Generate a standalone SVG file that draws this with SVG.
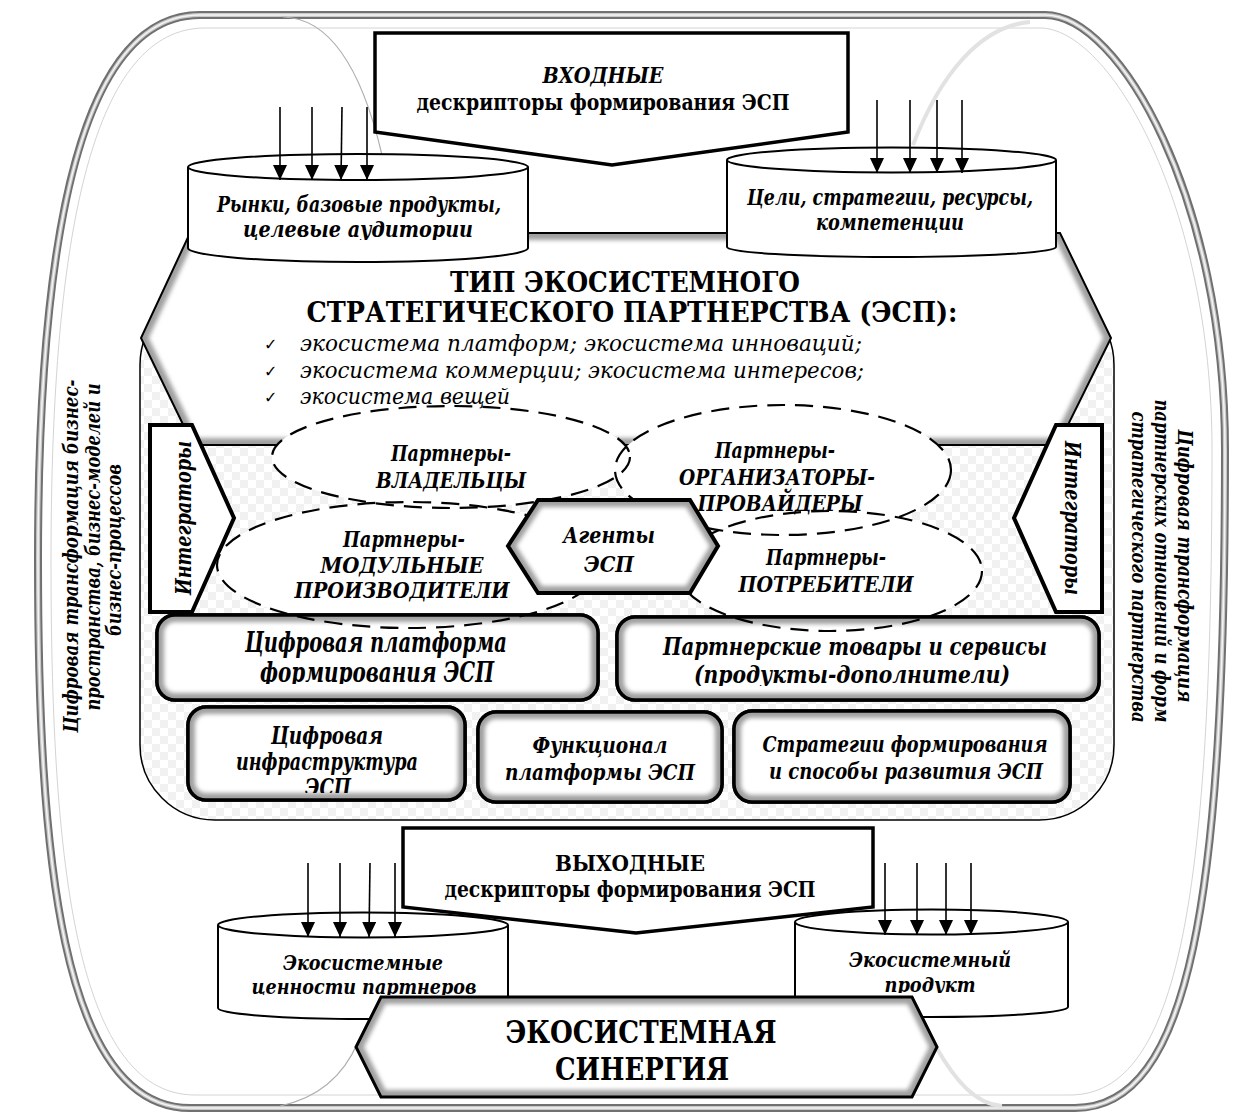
<svg xmlns="http://www.w3.org/2000/svg" width="1239" height="1120" viewBox="0 0 1239 1120" font-family="'DejaVu Serif Condensed', 'DejaVu Serif', serif">
<defs>
<style>
text { font-family: "DejaVu Serif Condensed", "DejaVu Serif", serif; font-stretch: condensed; fill:#000; }
.bi { font-weight:bold; font-style:italic; }
.b { font-weight:bold; }
.i { font-style:italic; }
.mid { text-anchor:middle; }
text.chk { font-family:"DejaVu Sans", sans-serif; font-size:16px; font-stretch:normal; }
.arr { stroke:#000; stroke-width:1.6; marker-end:url(#ah); fill:none; }
.efill { fill:#fff; stroke:none; }
.dash { fill:none; stroke:#000; stroke-width:2.2; stroke-dasharray:18 10; }
.box { fill:#fff; stroke:#000; stroke-width:3.5; }
.bev { fill:none; stroke:#a0a0a0; stroke-width:14; filter:url(#blur); }
.cyl { fill:#fff; stroke:#000; stroke-width:2; }
.pent { fill:#fff; stroke:#000; stroke-width:3.5; stroke-linejoin:miter; }
.faint { fill:none; stroke:#b0b0b0; stroke-width:1.2; }
.faintw { fill:none; stroke:#e2e2e2; stroke-width:4; }
</style>
<filter id="blur" x="-10%" y="-10%" width="120%" height="120%"><feGaussianBlur stdDeviation="2.2"/></filter>
<marker id="ah" markerUnits="userSpaceOnUse" markerWidth="15" markerHeight="14" refX="15" refY="7" orient="auto"><path d="M0,0 L15,7 L0,14 Z" fill="#000"/></marker>
<pattern id="chkp" width="16" height="16" patternUnits="userSpaceOnUse"><rect width="16" height="16" fill="#fff"/><rect width="8" height="8" fill="#f1f1f1"/><rect x="8" y="8" width="8" height="8" fill="#f1f1f1"/></pattern>
<clipPath id="cpHex"><polygon points="190,233 1060,233 1111,338 1058,445 193,445 141,338"/></clipPath>
<clipPath id="cpAg"><polygon points="538,500 690,500 718,546 690,593 538,593 508,546"/></clipPath>
<clipPath id="cpSyn"><polygon points="381,997 912,997 937,1047 912,1097 381,1097 356,1047"/></clipPath>
<clipPath id="cpA"><rect x="157" y="615" width="441" height="85" rx="18"/></clipPath>
<clipPath id="cpB"><rect x="617" y="617" width="482" height="83" rx="18"/></clipPath>
<clipPath id="cpC"><rect x="188" y="707" width="277" height="93" rx="18"/></clipPath>
<clipPath id="cpD"><rect x="478" y="712" width="244" height="90" rx="18"/></clipPath>
<clipPath id="cpE"><rect x="734" y="711" width="336" height="91" rx="18"/></clipPath>
<clipPath id="tA"><rect x="157" y="615" width="441" height="69"/></clipPath>
<clipPath id="tB"><rect x="617" y="617" width="482" height="69"/></clipPath>
<clipPath id="tC"><rect x="188" y="707" width="277" height="86"/></clipPath>
<clipPath id="tC1"><rect x="188" y="150" width="340" height="90"/></clipPath>
<clipPath id="tC2"><rect x="727" y="150" width="330" height="83"/></clipPath>
<clipPath id="tC3"><rect x="218" y="930" width="290" height="65"/></clipPath>
<clipPath id="tC4"><rect x="795" y="930" width="273" height="63"/></clipPath>
</defs>

<g id="outer">
<path d="M 200,15 L 1045,15 C 1120,15 1225,200 1225,450 C 1225,900 1190,1108 1075,1108 L 190,1108 C 60,1108 38,850 38,560 C 38,220 85,15 200,15 Z" fill="#fff" stroke="#707070" stroke-width="8"/>
<path d="M 200,15 L 1045,15 C 1120,15 1225,200 1225,450 C 1225,900 1190,1108 1075,1108 L 190,1108 C 60,1108 38,850 38,560 C 38,220 85,15 200,15 Z" fill="none" stroke="#c8c8c8" stroke-width="4"/>
<path d="M 200,15 L 1045,15 C 1120,15 1225,200 1225,450 C 1225,900 1190,1108 1075,1108 L 190,1108 C 60,1108 38,850 38,560 C 38,220 85,15 200,15 Z" fill="none" stroke="#f4f4f4" stroke-width="1.5"/>
<path d="M 205,28 L 1040,28 C 1110,28 1212,205 1212,450 C 1212,890 1180,1095 1070,1095 L 195,1095 C 72,1095 51,845 51,560 C 51,225 95,28 205,28 Z" fill="none" stroke="#d4d4d4" stroke-width="1"/>
<path class="faint" d="M 283,17 C 330,18 362,70 382,155"/>
<path class="faintw" d="M 1030,22 C 980,26 940,75 913,145"/>
<path class="faint" d="M 280,1106 C 318,1098 344,1075 358,1042"/>
<path class="faintw" d="M 936,1047 C 955,1080 975,1104 1002,1106"/>
</g>

<g id="input-descriptors">
<polygon class="pent" points="375,33 848,33 848,132 612,165 375,132"/>
<text class="bi mid" x="603" y="83" font-size="22" textLength="121" lengthAdjust="spacingAndGlyphs">ВХОДНЫЕ</text>
<text class="b mid" x="603" y="110" font-size="22" textLength="373" lengthAdjust="spacingAndGlyphs">дескрипторы формирования ЭСП</text>
</g>

<g id="container">
<rect x="140" y="290" width="974" height="530" rx="75" fill="url(#chkp)" stroke="#000" stroke-width="1.5"/>
</g>

<g id="esp-type">
<polygon points="190,233 1060,233 1111,338 1058,445 193,445 141,338" fill="#fff"/>
<polygon class="bev" points="190,233 1060,233 1111,338 1058,445 193,445 141,338" clip-path="url(#cpHex)"/>
<polygon points="190,233 1060,233 1111,338 1058,445 193,445 141,338" fill="none" stroke="#000" stroke-width="2"/>
</g>

<g id="markets">
<path class="cyl" d="M188,167 V248 A170,14 0 0 0 528,248 V167"/>
<ellipse class="cyl" cx="358" cy="167" rx="170" ry="13"/>
<g clip-path="url(#tC1)">
<text class="bi mid" x="359" y="212" font-size="22.5" textLength="284" lengthAdjust="spacingAndGlyphs">Рынки, базовые продукты,</text>
<text class="bi mid" x="358" y="237" font-size="22.5" textLength="230" lengthAdjust="spacingAndGlyphs">целевые аудитории</text>
</g>
</g>

<g id="goals">
<path class="cyl" d="M727,160 V247 A164.5,10 0 0 0 1056,247 V160"/>
<ellipse class="cyl" cx="891.5" cy="160" rx="164.5" ry="12.5"/>
<g clip-path="url(#tC2)">
<text class="bi mid" x="890" y="205" font-size="22.5" textLength="286" lengthAdjust="spacingAndGlyphs">Цели, стратегии, ресурсы,</text>
<text class="bi mid" x="890" y="230" font-size="22.5" textLength="148" lengthAdjust="spacingAndGlyphs">компетенции</text>
</g>
</g>

<g id="integrators-left">
<polygon points="150,425 192,425 234,518 192,612 150,612" fill="#fff" stroke="#000" stroke-width="4"/>
<text class="bi mid" font-size="22" textLength="154" lengthAdjust="spacingAndGlyphs" transform="translate(191,518) rotate(-90)">Интеграторы</text>
</g>
<g id="integrators-right">
<polygon points="1102,425 1056,425 1014,518 1056,612 1102,612" fill="#fff" stroke="#000" stroke-width="4"/>
<text class="bi mid" font-size="22" textLength="154" lengthAdjust="spacingAndGlyphs" transform="translate(1065,518) rotate(90)">Интеграторы</text>
</g>

<g id="ellipse-fills">
<ellipse class="efill" cx="451" cy="457" rx="179" ry="51"/>
<ellipse class="efill" cx="783" cy="470" rx="168" ry="65"/>
<ellipse class="efill" cx="409" cy="565" rx="192" ry="63"/>
<ellipse class="efill" cx="830" cy="571" rx="152" ry="60"/>
</g>

<g id="esp-type-text">
<text class="b mid" x="625" y="292" font-size="27.5" textLength="350" lengthAdjust="spacingAndGlyphs">ТИП ЭКОСИСТЕМНОГО</text>
<text class="b mid" x="632" y="322" font-size="27.5" textLength="651" lengthAdjust="spacingAndGlyphs">СТРАТЕГИЧЕСКОГО ПАРТНЕРСТВА (ЭСП):</text>
<text class="chk" x="264" y="350">✓</text>
<text class="i" x="300" y="351" font-size="22.5" textLength="562" lengthAdjust="spacingAndGlyphs">экосистема платформ; экосистема инноваций;</text>
<text class="chk" x="264" y="377">✓</text>
<text class="i" x="300" y="378" font-size="22.5" textLength="564" lengthAdjust="spacingAndGlyphs">экосистема коммерции; экосистема интересов;</text>
<text class="chk" x="264" y="403">✓</text>
<text class="i" x="300" y="404" font-size="22.5" textLength="210" lengthAdjust="spacingAndGlyphs">экосистема вещей</text>
</g>

<g id="digital-platform">
<rect class="box" x="157" y="615" width="441" height="85" rx="18"/>
<rect class="bev" x="157" y="615" width="441" height="85" rx="18" clip-path="url(#cpA)" stroke-width="10"/>
<rect x="157" y="615" width="441" height="85" rx="18" fill="none" stroke="#000" stroke-width="3.5"/>
<g clip-path="url(#tA)">
<text class="bi mid" x="376" y="652" font-size="27" textLength="262" lengthAdjust="spacingAndGlyphs">Цифровая платформа</text>
<text class="bi mid" x="377" y="682" font-size="27" textLength="234" lengthAdjust="spacingAndGlyphs">формирования ЭСП</text>
</g>
</g>

<g id="partner-goods">
<rect class="box" x="617" y="617" width="482" height="83" rx="18"/>
<rect class="bev" x="617" y="617" width="482" height="83" rx="18" clip-path="url(#cpB)" stroke-width="10"/>
<rect x="617" y="617" width="482" height="83" rx="18" fill="none" stroke="#000" stroke-width="3.5"/>
<g clip-path="url(#tB)">
<text class="bi mid" x="855" y="655" font-size="24" textLength="384" lengthAdjust="spacingAndGlyphs">Партнерские товары и сервисы</text>
<text class="bi mid" x="852" y="683" font-size="24" textLength="316" lengthAdjust="spacingAndGlyphs">(продукты-дополнители)</text>
</g>
</g>

<g id="digital-infra">
<rect class="box" x="188" y="707" width="277" height="93" rx="18"/>
<rect class="bev" x="188" y="707" width="277" height="93" rx="18" clip-path="url(#cpC)" stroke-width="10"/>
<rect x="188" y="707" width="277" height="93" rx="18" fill="none" stroke="#000" stroke-width="3.5"/>
<g clip-path="url(#tC)">
<text class="bi mid" x="327" y="744" font-size="23.5" textLength="112" lengthAdjust="spacingAndGlyphs">Цифровая</text>
<text class="bi mid" x="327" y="770" font-size="23.5" textLength="182" lengthAdjust="spacingAndGlyphs">инфраструктура</text>
<text class="bi mid" x="328" y="796" font-size="23.5" textLength="46" lengthAdjust="spacingAndGlyphs">ЭСП</text>
</g>
</g>

<g id="functionality">
<rect class="box" x="478" y="712" width="244" height="90" rx="18"/>
<rect class="bev" x="478" y="712" width="244" height="90" rx="18" clip-path="url(#cpD)" stroke-width="10"/>
<rect x="478" y="712" width="244" height="90" rx="18" fill="none" stroke="#000" stroke-width="3.5"/>
<text class="bi mid" x="600" y="753" font-size="22.5" textLength="135" lengthAdjust="spacingAndGlyphs">Функционал</text>
<text class="bi mid" x="600" y="780" font-size="22.5" textLength="190" lengthAdjust="spacingAndGlyphs">платформы ЭСП</text>
</g>

<g id="strategies">
<rect class="box" x="734" y="711" width="336" height="91" rx="18"/>
<rect class="bev" x="734" y="711" width="336" height="91" rx="18" clip-path="url(#cpE)" stroke-width="10"/>
<rect x="734" y="711" width="336" height="91" rx="18" fill="none" stroke="#000" stroke-width="3.5"/>
<text class="bi mid" x="905" y="752" font-size="22.5" textLength="285" lengthAdjust="spacingAndGlyphs">Стратегии формирования</text>
<text class="bi mid" x="906" y="779" font-size="22.5" textLength="274" lengthAdjust="spacingAndGlyphs">и способы развития ЭСП</text>
</g>

<g id="partners-owners">
<ellipse class="dash" cx="451" cy="457" rx="179" ry="51"/>
<text class="bi mid" x="451" y="461" font-size="22.5" textLength="120" lengthAdjust="spacingAndGlyphs">Партнеры-</text>
<text class="bi mid" x="451" y="488" font-size="22.5" textLength="150" lengthAdjust="spacingAndGlyphs">ВЛАДЕЛЬЦЫ</text>
</g>
<g id="partners-organizers">
<ellipse class="dash" cx="783" cy="470" rx="168" ry="65"/>
<text class="bi mid" x="775" y="458" font-size="22.5" textLength="120" lengthAdjust="spacingAndGlyphs">Партнеры-</text>
<text class="bi mid" x="777" y="485" font-size="22.5" textLength="196" lengthAdjust="spacingAndGlyphs">ОРГАНИЗАТОРЫ-</text>
<text class="bi mid" x="780" y="511" font-size="22.5" textLength="165" lengthAdjust="spacingAndGlyphs">ПРОВАЙДЕРЫ</text>
</g>
<g id="partners-modular">
<ellipse class="dash" cx="409" cy="565" rx="192" ry="63"/>
<text class="bi mid" x="404" y="547" font-size="22.5" textLength="122" lengthAdjust="spacingAndGlyphs">Партнеры-</text>
<text class="bi mid" x="402" y="573" font-size="22.5" textLength="163" lengthAdjust="spacingAndGlyphs">МОДУЛЬНЫЕ</text>
<text class="bi mid" x="402" y="598" font-size="22.5" textLength="215" lengthAdjust="spacingAndGlyphs">ПРОИЗВОДИТЕЛИ</text>
</g>
<g id="partners-consumers">
<ellipse class="dash" cx="830" cy="571" rx="152" ry="60"/>
<text class="bi mid" x="826" y="565" font-size="22.5" textLength="120" lengthAdjust="spacingAndGlyphs">Партнеры-</text>
<text class="bi mid" x="826" y="592" font-size="22.5" textLength="175" lengthAdjust="spacingAndGlyphs">ПОТРЕБИТЕЛИ</text>
</g>

<g id="agents">
<polygon points="538,500 690,500 718,546 690,593 538,593 508,546" fill="#fff"/>
<polygon class="bev" points="538,500 690,500 718,546 690,593 538,593 508,546" clip-path="url(#cpAg)"/>
<polygon points="538,500 690,500 718,546 690,593 538,593 508,546" fill="none" stroke="#000" stroke-width="4"/>
<text class="bi mid" x="609" y="543" font-size="23" textLength="92" lengthAdjust="spacingAndGlyphs">Агенты</text>
<text class="bi mid" x="609" y="572" font-size="23" textLength="50" lengthAdjust="spacingAndGlyphs">ЭСП</text>
</g>

<g id="output-descriptors">
<polygon class="pent" points="403,828 873,828 873,907 636,933 403,907"/>
<text class="b mid" x="630" y="871" font-size="22.5" textLength="150" lengthAdjust="spacingAndGlyphs">ВЫХОДНЫЕ</text>
<text class="b mid" x="630" y="897" font-size="22.5" textLength="371" lengthAdjust="spacingAndGlyphs">дескрипторы формирования ЭСП</text>
</g>

<g id="values">
<path class="cyl" d="M218,925 V1008 A145,11 0 0 0 508,1008 V925"/>
<ellipse class="cyl" cx="363" cy="925" rx="145" ry="12.5"/>
<g clip-path="url(#tC3)">
<text class="bi mid" x="363" y="970" font-size="20.5" textLength="160" lengthAdjust="spacingAndGlyphs">Экосистемные</text>
<text class="bi mid" x="364" y="994" font-size="20.5" textLength="225" lengthAdjust="spacingAndGlyphs">ценности партнеров</text>
</g>
</g>

<g id="product">
<path class="cyl" d="M795,922 V1007 A136.5,10 0 0 0 1068,1007 V922"/>
<ellipse class="cyl" cx="931.5" cy="922" rx="136.5" ry="12.5"/>
<g clip-path="url(#tC4)">
<text class="bi mid" x="930" y="967" font-size="20.5" textLength="162" lengthAdjust="spacingAndGlyphs">Экосистемный</text>
<text class="bi mid" x="930" y="992" font-size="20.5" textLength="91" lengthAdjust="spacingAndGlyphs">продукт</text>
</g>
</g>

<g id="synergy">
<polygon points="381,997 912,997 937,1047 912,1097 381,1097 356,1047" fill="#fff"/>
<polygon class="bev" points="381,997 912,997 937,1047 912,1097 381,1097 356,1047" clip-path="url(#cpSyn)" stroke-width="18"/>
<polygon points="381,997 912,997 937,1047 912,1097 381,1097 356,1047" fill="none" stroke="#000" stroke-width="3"/>
<text class="b mid" x="641" y="1043" font-size="31" textLength="271" lengthAdjust="spacingAndGlyphs">ЭКОСИСТЕМНАЯ</text>
<text class="b mid" x="642" y="1080" font-size="31" textLength="174" lengthAdjust="spacingAndGlyphs">СИНЕРГИЯ</text>
</g>

<g id="side-left">
<text class="bi mid" font-size="20.5" textLength="353" lengthAdjust="spacingAndGlyphs" transform="translate(78,556) rotate(-90)">Цифровая трансформация бизнес-</text>
<text class="bi mid" font-size="20.5" textLength="327" lengthAdjust="spacingAndGlyphs" transform="translate(100,547) rotate(-90)">пространства, бизнес-моделей и</text>
<text class="bi mid" font-size="20.5" textLength="172" lengthAdjust="spacingAndGlyphs" transform="translate(121,550) rotate(-90)">бизнес-процессов</text>
</g>
<g id="side-right">
<text class="bi mid" font-size="20.5" textLength="273" lengthAdjust="spacingAndGlyphs" transform="translate(1178,566) rotate(90)">Цифровая трансформация</text>
<text class="bi mid" font-size="20.5" textLength="323" lengthAdjust="spacingAndGlyphs" transform="translate(1155,561) rotate(90)">партнерских отношений и форм</text>
<text class="bi mid" font-size="20.5" textLength="311" lengthAdjust="spacingAndGlyphs" transform="translate(1132,567) rotate(90)">стратегического партнерства</text>
</g>

<g id="connectors">
<line class="arr" x1="280" y1="107" x2="280" y2="180"/>
<line class="arr" x1="312" y1="107" x2="312" y2="180"/>
<line class="arr" x1="342" y1="107" x2="341" y2="180"/>
<line class="arr" x1="367" y1="107" x2="367" y2="180"/>
<line class="arr" x1="877" y1="100" x2="877" y2="173"/>
<line class="arr" x1="910" y1="100" x2="910" y2="173"/>
<line class="arr" x1="937" y1="100" x2="937" y2="173"/>
<line class="arr" x1="962" y1="100" x2="962" y2="173"/>
<line class="arr" x1="308" y1="863" x2="308" y2="937"/>
<line class="arr" x1="340" y1="863" x2="340" y2="937"/>
<line class="arr" x1="370" y1="863" x2="369" y2="937"/>
<line class="arr" x1="395" y1="863" x2="395" y2="937"/>
<line class="arr" x1="885" y1="863" x2="885" y2="935"/>
<line class="arr" x1="917" y1="863" x2="917" y2="935"/>
<line class="arr" x1="946" y1="863" x2="946" y2="935"/>
<line class="arr" x1="971" y1="863" x2="971" y2="935"/>
</g>
</svg>
